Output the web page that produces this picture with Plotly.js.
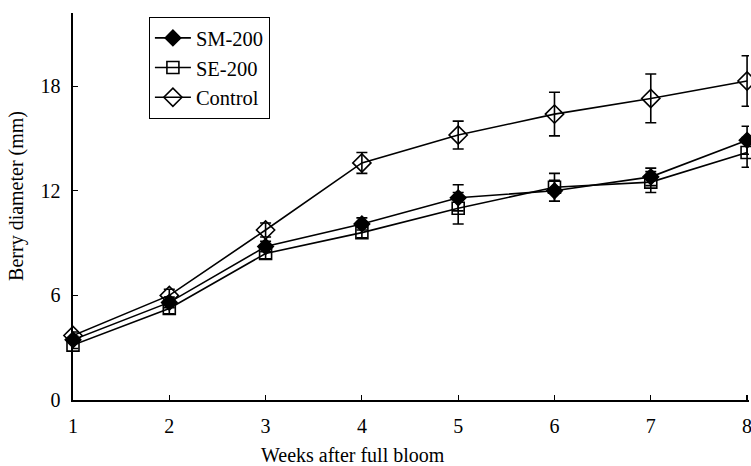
<!DOCTYPE html>
<html>
<head>
<meta charset="utf-8">
<script src="https://cdn.plot.ly/plotly-3.0.1.min.js"></script>
<style>html,body{margin:0;padding:0;background:#fff;}#chart{width:751px;height:466px;}</style>
</head>
<body>
<div id="chart"></div>
<script>
const weeks = [1, 2, 3, 4, 5, 6, 7, 8];
const smMean = [3.45, 5.6, 8.8, 10.1, 11.6, 12.0, 12.8, 14.9];
const smErr  = [0.2, 0.3, 0.3, 0.35, 0.75, 0.6, 0.5, 0.8];
const seMean = [3.15, 5.25, 8.4, 9.6, 11.0, 12.2, 12.5, 14.2];
const seErr  = [0.2, 0.3, 0.3, 0.3, 0.9, 0.8, 0.6, 0.85];
const ctMean = [3.7, 6.0, 9.75, 13.6, 15.2, 16.4, 17.3, 18.3];
const ctErr  = [0.2, 0.35, 0.4, 0.6, 0.8, 1.25, 1.4, 1.45];
const names = ["SM-200", "SE-200", "Control"];
const yTicks = [0, 6, 12, 18];

const FONT = "Liberation Serif, Times New Roman, serif";
const line = {color: "#000", width: 1.6};
function err(a) { return {type: "data", array: a, visible: true, color: "#000", thickness: 1.6, width: 5.5}; }

const traces = [
  {x: weeks, y: smMean, name: names[0], mode: "lines+markers", line: line, error_y: err(smErr),
   marker: {symbol: "diamond", size: 12, color: "#000", line: {color: "#000", width: 1.5}}, cliponaxis: false},
  {x: weeks, y: seMean, name: names[1], mode: "lines+markers", line: line, error_y: err(seErr),
   marker: {symbol: "square-open", size: 12, color: "#000", line: {color: "#000", width: 1.6}}, cliponaxis: false},
  {x: weeks, y: ctMean, name: names[2], mode: "lines+markers", line: line, error_y: err(ctErr),
   marker: {symbol: "diamond-open", size: 14, color: "#000", line: {color: "#000", width: 1.6}}, cliponaxis: false}
];

const layout = {
  width: 751, height: 466,
  margin: {l: 73, r: 2, t: 13, b: 66},
  paper_bgcolor: "#fff", plot_bgcolor: "#fff",
  font: {family: FONT, size: 20, color: "#000"},
  showlegend: true,
  legend: {x: 0.112, y: 0.99, xanchor: "left", yanchor: "top", bgcolor: "#fff",
           bordercolor: "#000", borderwidth: 1.2, font: {family: FONT, size: 20.5, color: "#000"},
           tracegroupgap: 0, itemwidth: 36},
  xaxis: {range: [1, 8.02], tickvals: weeks, ticktext: weeks.map(String), ticks: "inside", ticklen: 5,
          tickwidth: 1.2, tickcolor: "#000", showline: true, linecolor: "#000", linewidth: 1.6,
          showgrid: false, zeroline: false, ticklabelstandoff: 7, ticklabeloverflow: "allow",
          tickfont: {family: FONT, size: 20}},
  yaxis: {range: [0, 22.2], tickvals: yTicks, ticktext: yTicks.map(String), ticks: "inside", ticklen: 5,
          tickwidth: 1.2, tickcolor: "#000", showline: true, linecolor: "#000", linewidth: 1.6,
          showgrid: false, zeroline: false, ticklabelstandoff: 7, tickfont: {family: FONT, size: 20}},
  annotations: [
    {text: "Weeks after full bloom", xref: "paper", yref: "paper", x: (353 - 73) / 676, y: (400 - 455) / 387,
     xanchor: "center", yanchor: "middle", showarrow: false, font: {family: FONT, size: 20}},
    {text: "Berry diameter (mm)", xref: "paper", yref: "paper", x: -0.063, y: (400 - 196) / 387,
     xanchor: "right", yanchor: "middle", textangle: -90, showarrow: false, font: {family: FONT, size: 20}}
  ]
};

Plotly.newPlot("chart", traces, layout, {displayModeBar: false, staticPlot: true});
</script>
</body>
</html>
